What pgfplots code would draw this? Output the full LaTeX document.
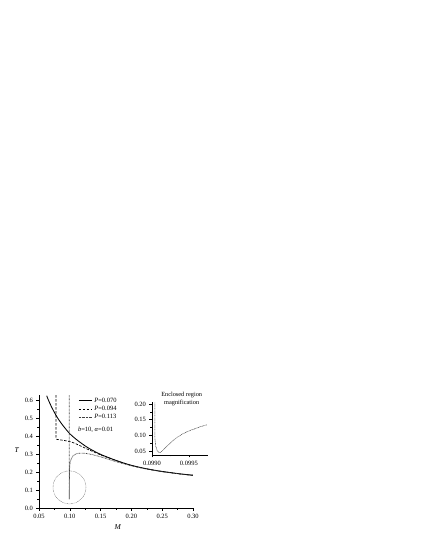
\documentclass[border=0pt]{standalone}
\usepackage{fontspec}
\setmainfont{Liberation Serif}
\usepackage{pgfplots}
\pgfplotsset{compat=1.18}

\pgfplotstableread{
M T
0.0625 0.626
0.065 0.604
0.070 0.566
0.075 0.533
0.080 0.503
0.085 0.478
0.090 0.455
0.100 0.414
0.110 0.384
0.120 0.358
0.130 0.335
0.140 0.316
0.150 0.299
0.160 0.285
0.180 0.259
0.200 0.238
0.220 0.222
0.240 0.209
0.260 0.199
0.280 0.190
0.300 0.183
}\solid

\pgfplotstableread{
M T
0.0775 0.630
0.0775 0.400
0.0777 0.390
0.0785 0.384
0.0800 0.382
0.0840 0.380
0.0900 0.377
0.0950 0.374
0.1000 0.370
0.1050 0.365
0.1100 0.358
0.1150 0.350
0.1200 0.342
0.1250 0.334
0.1300 0.326
0.1400 0.311
0.1500 0.296
0.1600 0.283
0.1700 0.271
0.1800 0.259
0.2000 0.237
0.2200 0.221
0.2500 0.203
0.2800 0.189
0.3000 0.182
}\dashed

\pgfplotstableread{
M T
0.0990 0.630
0.0990 0.050
0.0992 0.048
0.0993 0.120
0.0994 0.200
0.0998 0.225
0.1005 0.250
0.1020 0.272
0.1050 0.290
0.1090 0.300
0.1140 0.305
0.1200 0.306
0.1270 0.304
0.1350 0.299
0.1450 0.290
0.1550 0.280
0.1650 0.269
0.1750 0.258
0.1900 0.244
0.2000 0.235
0.2200 0.220
0.2500 0.202
0.3000 0.181
}\dotted

\pgfplotstableread{
M T
0.09904 0.205
0.09904 0.090
0.09905 0.065
0.09907 0.052
0.09909 0.046
0.09911 0.045
0.09914 0.050
0.09918 0.060
0.09922 0.069
0.09928 0.082
0.09935 0.095
0.09942 0.105
0.09950 0.114
0.09958 0.121
0.09966 0.128
0.09975 0.134
}\zoomed

\begin{document}
\begin{tikzpicture}[x=1pt,y=1pt]
\path[use as bounding box] (0,0) rectangle (422,547);

\begin{axis}[
    at={(39pt,39pt)}, anchor=south west,
    scale only axis, width=154pt, height=113pt,
    xmin=0.05, xmax=0.30, ymin=0, ymax=0.63,
    axis lines=left, axis line style={-, line width=0.5pt},
    tick align=outside,
    xtick={0.05,0.10,0.15,0.20,0.25,0.30},
    xticklabels={0.05,0.10,0.15,0.20,0.25,0.30},
    ytick={0,0.1,0.2,0.3,0.4,0.5,0.6},
    yticklabels={0.0,0.1,0.2,0.3,0.4,0.5,0.6},
    minor x tick num=1, minor y tick num=1,
    major tick length=2.5pt, minor tick length=1.5pt,
    tick style={black, line width=0.5pt},
    scaled ticks=false,
    ticklabel style={font=\fontsize{6.5}{7}\selectfont},
    xlabel={\textit{M}}, ylabel={\textit{T}},
    xlabel style={at={(axis description cs:0.513,-0.168)}, anchor=center, font=\fontsize{7.5}{8}\selectfont},
    ylabel style={at={(axis description cs:-0.143,0.513)}, anchor=center, rotate=-90, font=\fontsize{7.5}{8}\selectfont},
    clip mode=individual,
    legend style={at={(axis description cs:0.255,0.995)}, anchor=north west,
        draw=none, fill=none, font=\fontsize{6.5}{7}\selectfont,
        inner sep=0pt, row sep=-1.5pt},
    legend cell align=left,
    legend image code/.code={\draw[#1] (0pt,0pt) -- (13pt,0pt);},
]
\addplot[black, line width=0.85pt, smooth] table {\solid};
\addlegendentry{\textit{P}=0.070}
\addplot[black, line width=0.7pt, dash pattern=on 2.5pt off 1.5pt] table {\dashed};
\addlegendentry{\textit{P}=0.094}
\addplot[black!75, line width=0.7pt, dash pattern=on 0.7pt off 0.7pt] table {\dotted};
\addlegendentry{\textit{P}=0.113}

\draw[black!70, line width=0.4pt, dash pattern=on 0.5pt off 0.8pt] (axis cs:0.0995,0.115) circle [radius=16.5pt];
\node[anchor=west, font=\fontsize{6.5}{7}\selectfont, inner sep=0pt] at (axis description cs:0.252,0.69) {\textit{b}=10, \textit{α}=0.01};
\end{axis}

\begin{axis}[
    at={(152pt,92pt)}, anchor=south west,
    scale only axis, width=56pt, height=53.4pt,
    xmin=0.0990, xmax=0.09976, ymin=0.037, ymax=0.208,
    axis lines=left, axis line style={-, line width=0.5pt},
    tick align=outside,
    xtick={0.0990,0.0995}, xticklabels={0.0990,0.0995},
    ytick={0.05,0.10,0.15,0.20}, yticklabels={0.05,0.10,0.15,0.20},
    minor x tick num=1, minor y tick num=1,
    major tick length=2.5pt, minor tick length=1.5pt,
    tick style={black, line width=0.5pt},
    scaled ticks=false,
    ticklabel style={font=\fontsize{6.5}{7}\selectfont},
    clip mode=individual,
]
\addplot[black!75, line width=0.6pt, dash pattern=on 0.7pt off 0.7pt] table {\zoomed};
\node[align=center, font=\fontsize{6.3}{8}\selectfont] at (axis description cs:0.53,1.04) {Enclosed region\\magnification};
\end{axis}
\end{tikzpicture}
\end{document}
